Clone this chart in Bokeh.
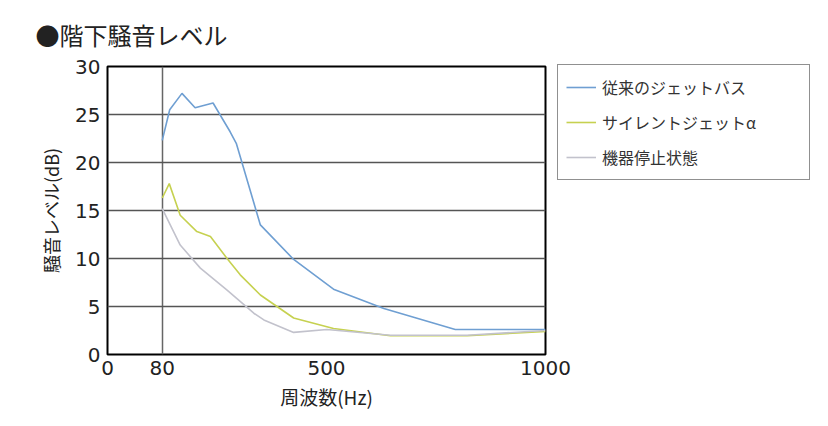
from bokeh.plotting import figure
from bokeh.models import Legend, LegendItem, FixedTicker, Range1d
from bokeh.embed import file_html
from bokeh.resources import INLINE

# Tick labels (position on the drawn axis -> label)
x_tick_pos = [0, 125, 500, 1000]
x_tick_labels = ["0", "80", "500", "1000"]
y_ticks = [0, 5, 10, 15, 20, 25, 30]

# Series (x in axis units, y in dB)
blue_x = [125, 142, 170, 200, 241, 280, 294, 349, 425, 516, 631, 794, 1000]
blue_y = [22.3, 25.5, 27.2, 25.7, 26.2, 23.2, 22.0, 13.5, 9.9, 6.8, 4.8, 2.6, 2.6]

green_x = [125, 141, 166, 204, 235, 273, 303, 349, 425, 516, 646, 821, 1000]
green_y = [16.3, 17.8, 14.5, 12.8, 12.3, 10.0, 8.3, 6.2, 3.8, 2.7, 1.95, 1.95, 2.4]

gray_x = [125, 166, 212, 273, 334, 357, 425, 501, 646, 821, 1000]
gray_y = [15.2, 11.4, 9.0, 6.7, 4.3, 3.6, 2.3, 2.6, 2.0, 2.0, 2.5]

names = ["従来のジェットバス", "サイレントジェットα", "機器停止状態"]
colors = ["#6f9fd2", "#c6d150", "#c2c2cc"]

JP = "Noto Sans CJK JP"
NUM = "DejaVu Sans"

p = figure(frame_width=438, frame_height=288, output_backend="svg", toolbar_location=None,
           x_range=Range1d(0, 1000), y_range=Range1d(0, 30),
           min_border_left=107, min_border_top=65, min_border_bottom=58,
           min_border_right=10, title="●階下騒音レベル")

p.title.text_font = JP
p.title.text_font_size = "24px"
p.title.text_font_style = "normal"
p.title.text_color = "#222222"
p.title.align = "left"
p.title.offset = -72
p.title.standoff = 29

p.outline_line_color = "black"
p.outline_line_width = 2
p.background_fill_color = "white"
p.border_fill_color = "white"

r1 = p.line(blue_x, blue_y, line_color=colors[0], line_width=1.6)
r2 = p.line(green_x, green_y, line_color=colors[1], line_width=1.6)
r3 = p.line(gray_x, gray_y, line_color=colors[2], line_width=1.6)

p.xaxis.ticker = FixedTicker(ticks=x_tick_pos)
p.xaxis.major_label_overrides = {t: l for t, l in zip(x_tick_pos, x_tick_labels)}
p.yaxis.ticker = FixedTicker(ticks=y_ticks)

for ax in (p.xaxis[0], p.yaxis[0]):
    ax.axis_line_color = None
    ax.major_tick_line_color = None
    ax.minor_tick_line_color = None
    ax.major_tick_out = 0
    ax.major_tick_in = 0
    ax.major_label_text_font = NUM
    ax.major_label_text_font_size = "20px"
    ax.major_label_text_color = "#222222"
    ax.axis_label_text_font = JP
    ax.axis_label_text_font_style = "normal"
    ax.axis_label_text_color = "#222222"

p.xaxis.axis_label = "周波数(Hz)"
p.yaxis.axis_label = "騒音レベル(dB)"
p.xaxis.major_label_standoff = 6
p.yaxis.major_label_standoff = 7
p.xaxis.axis_label_standoff = 5
p.yaxis.axis_label_standoff = 8
p.xaxis.axis_label_text_font_size = "19px"
p.yaxis.axis_label_text_font_size = "18px"

p.ygrid.ticker = FixedTicker(ticks=[5, 10, 15, 20, 25])
p.ygrid.grid_line_color = "#555555"
p.ygrid.grid_line_width = 1.5
p.xgrid.ticker = FixedTicker(ticks=[125])
p.xgrid.grid_line_color = "#666666"
p.xgrid.grid_line_width = 1.5

legend = Legend(items=[LegendItem(label=names[0], renderers=[r1]),
                       LegendItem(label=names[1], renderers=[r2]),
                       LegendItem(label=names[2], renderers=[r3])],
                location=(12, 174))
legend.border_line_color = "#222222"
legend.border_line_width = 1.5
legend.label_text_font = JP
legend.label_text_font_size = "16px"
legend.label_text_color = "#333333"
legend.glyph_width = 30
legend.glyph_height = 28
legend.label_height = 28
legend.label_width = 199
legend.spacing = 7
legend.padding = 8
legend.margin = 0
legend.label_standoff = 6
legend.background_fill_color = "white"
p.add_layout(legend, "right")

open("out.html", "w").write(file_html(p, INLINE))
